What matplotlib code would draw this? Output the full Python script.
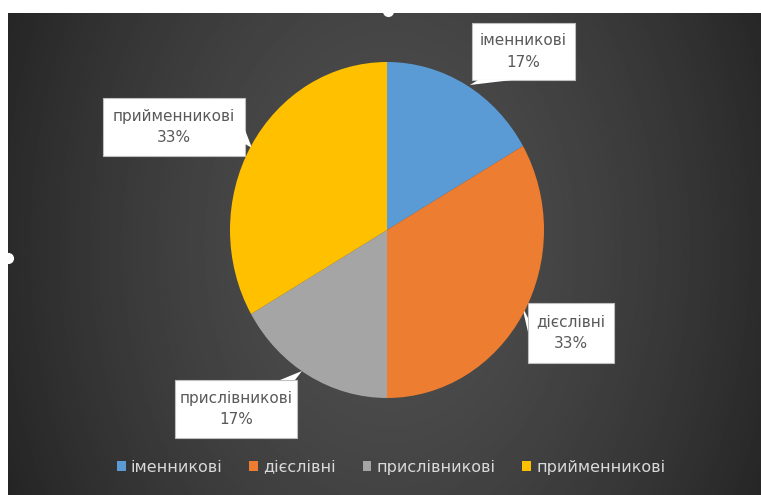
import numpy as np
import matplotlib.pyplot as plt
from matplotlib.patches import Polygon, Rectangle

# part-of-speech shares
labels = ['іменникові', 'дієслівні', 'прислівникові', 'прийменникові']
values = [1, 2, 1, 2]
pct_labels = ['17%', '33%', '17%', '33%']
colors = ['#5B9BD5', '#ED7D31', '#A5A5A5', '#FFC000']

W, H = 761, 495
fig = plt.figure(figsize=(W / 100, H / 100), dpi=100, facecolor='white')

# overlay axes in pixel units (y up)
ov = fig.add_axes([0, 0, 1, 1])
ov.set_xlim(0, W)
ov.set_ylim(0, H)
ov.axis('off')

# dark radial background
gx, gy = np.meshgrid(np.linspace(8, W, 400), np.linspace(0, H - 13, 300))
d = np.sqrt(((gx - 390) / 430) ** 2 + ((gy - 250) / 600) ** 2)
shade = np.clip(0.31 - 0.17 * d ** 1.5, 0.11, 0.32)
ov.imshow(shade, cmap='gray', vmin=0, vmax=1, extent=(8, W, 0, H - 13),
          origin='lower', aspect='auto', zorder=0)

# pie
cx, cy, rx, ry = 387, H - 230, 157, 168
pax = fig.add_axes([(cx - rx) / W, (cy - ry) / H, 2 * rx / W, 2 * ry / H])
wedges, _ = pax.pie(values, colors=colors, startangle=90, counterclock=False,
                    wedgeprops=dict(linewidth=0))
pax.set_aspect('auto')
pax.set_xlim(-1, 1)
pax.set_ylim(-1, 1)
pax.axis('off')

# callouts: box (x0, x1, ytop, ybot) in image pixels and tail polygon
boxes = [
    (472, 575, 23, 80, [(478, 80), (512, 80), (470, 85)]),
    (528, 614, 303, 363, [(528, 318), (528, 332), (522, 306)]),
    (175, 297, 380, 438, [(280, 380), (295, 380), (302, 371)]),
    (103, 245, 98, 156, [(245, 130), (245, 144), (252, 148)]),
]
for (x0, x1, yt, yb, tail), lab, pct in zip(boxes, labels, pct_labels):
    ov.add_patch(Rectangle((x0, H - yb), x1 - x0, yb - yt, facecolor='white',
                           edgecolor='#bfbfbf', linewidth=0.8, zorder=5))
    ov.add_patch(Polygon([(x, H - y) for x, y in tail], closed=True,
                         facecolor='white', edgecolor='none', zorder=6))
    xm = (x0 + x1) / 2
    ym = H - (yt + yb) / 2
    ov.text(xm, ym + 11, lab, ha='center', va='center', fontsize=11,
            color='#595959', zorder=7)
    ov.text(xm, ym - 11, pct, ha='center', va='center', fontsize=11,
            color='#595959', zorder=7)

# selection handles
ov.plot([388, 8], [H - 11, H - 258], 'o', color='white', markersize=7, zorder=8)

leg = fig.legend(wedges, labels, loc='center', bbox_to_anchor=(391 / W, 1 - 467 / H),
                 ncol=4, frameon=False, fontsize=11.5, handlelength=0.55,
                 handleheight=0.55, handletextpad=0.3, columnspacing=1.7)
for t in leg.get_texts():
    t.set_color('#d9d9d9')

fig.savefig('out.png', dpi=100, facecolor='white')
